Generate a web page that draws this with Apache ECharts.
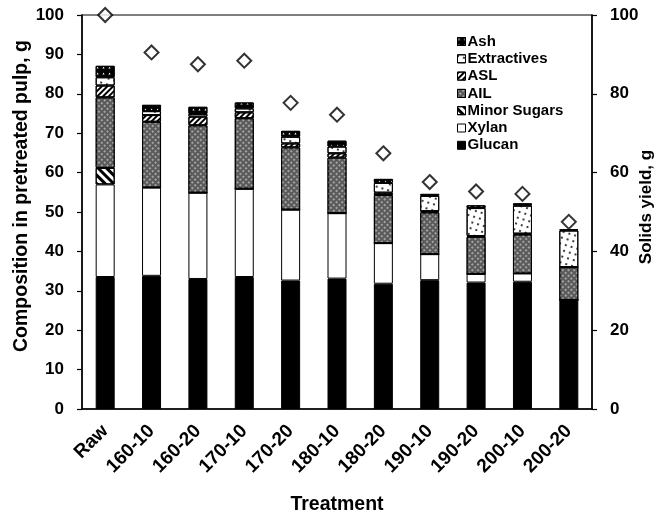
<!DOCTYPE html>
<html>
<head>
<meta charset="utf-8">
<script src="https://cdn.jsdelivr.net/npm/echarts@6/dist/echarts.min.js"></script>
<style>html,body{margin:0;padding:0;background:#fff;}#chart{width:658px;height:514px;}</style>
</head>
<body>
<div id="chart"></div>
<script>
var categories = ['Raw','160-10','160-20','170-10','170-20','180-10','180-20','190-10','190-20','200-10','200-20'];
var glucan      = [33.5, 33.8, 33.0, 33.5, 32.6, 33.1, 31.8, 32.7, 32.1, 32.3, 27.7];
var xylan       = [23.5, 22.4, 21.9, 22.4, 18.0, 16.6, 10.3, 6.6, 2.2, 2.1, 0];
var minorSugars = [4.2, 0, 0, 0, 0, 0, 0, 0, 0, 0, 0];
var ail         = [17.9, 16.7, 17.1, 17.9, 15.8, 14.1, 12.2, 10.6, 9.4, 9.9, 8.3];
var asl         = [3.0, 1.7, 2.2, 1.5, 1.0, 1.1, 0.6, 0.3, 0.2, 0.2, 0];
var extractives = [2.1, 1.0, 0.7, 1.0, 1.7, 1.7, 2.5, 3.9, 7.1, 7.1, 9.3];
var ash         = [2.9, 1.6, 1.8, 1.5, 1.5, 1.5, 1.0, 0.5, 0.7, 0.6, 0.3];
var solidsYield = [100, 90.5, 87.5, 88.4, 77.7, 74.7, 64.9, 57.6, 55.2, 54.6, 47.5];
var leftTicks = {min: 0, max: 100, interval: 10};
var rightTicks = {min: 0, max: 100, interval: 20};

var FONT = '"Liberation Sans", Arial, sans-serif';

function barSeries(name, data, color, decal) {
  var s = {
    name: name, type: 'bar', stack: 'total', data: data,
    barWidth: 19,
    itemStyle: {color: color, borderColor: '#000', borderWidth: 1},
    emphasis: {disabled: true}
  };
  if (decal) s.itemStyle.decal = decal;
  return s;
}

var chart = echarts.init(document.getElementById('chart'), null, {renderer: 'canvas'});
var option = {
  animation: false,
  backgroundColor: '#fff',
  grid: {left: 82, right: 66, top: 15, bottom: 105, outerBoundsMode: 'none', containLabel: false,
         show: true, borderColor: '#000', borderWidth: 1.2, backgroundColor: 'transparent'},
  legend: {
    orient: 'vertical', left: 452, top: 29,
    itemWidth: 8, itemHeight: 8, itemGap: 2.3,
    icon: 'rect',
    data: ['Ash','Extractives','ASL','AIL','Minor Sugars','Xylan','Glucan'],
    textStyle: {fontFamily: FONT, fontWeight: 'bold', fontSize: 15, color: '#000', lineHeight: 15, padding: [0,0,0,-3]},
    itemStyle: {borderColor: '#000', borderWidth: 1}
  },
  xAxis: {
    type: 'category', data: categories,
    axisLine: {lineStyle: {color: '#000', width: 1.5}},
    axisTick: {alignWithLabel: true, length: 5, lineStyle: {color: '#000', width: 1.2}},
    axisLabel: {rotate: 45, fontFamily: FONT, fontWeight: 'bold', fontSize: 19, color: '#000', margin: 19},
    name: 'Treatment', nameLocation: 'middle', nameGap: 86, nameMoveOverlap: false,
    nameTextStyle: {fontFamily: FONT, fontWeight: 'bold', fontSize: 19.5, color: '#000'}
  },
  yAxis: [{
    type: 'value', min: leftTicks.min, max: leftTicks.max, interval: leftTicks.interval,
    axisLine: {show: true, lineStyle: {color: '#000', width: 1.5}},
    axisTick: {show: true, length: 5, lineStyle: {color: '#000', width: 1.2}},
    splitLine: {show: false},
    axisLabel: {fontFamily: FONT, fontWeight: 'bold', fontSize: 17, color: '#000', margin: 18},
    name: 'Composition in pretreated pulp, g', nameLocation: 'middle', nameRotate: 90, nameGap: 50, nameMoveOverlap: false,
    nameTextStyle: {fontFamily: FONT, fontWeight: 'bold', fontSize: 19.5, color: '#000', padding: [0,0,0,32]}
  }, {
    type: 'value', position: 'right', min: rightTicks.min, max: rightTicks.max, interval: rightTicks.interval,
    axisLine: {show: true, lineStyle: {color: '#000', width: 1.5}},
    axisTick: {show: true, length: 5, lineStyle: {color: '#000', width: 1.2}},
    splitLine: {show: false},
    axisLabel: {fontFamily: FONT, fontWeight: 'bold', fontSize: 17, color: '#000', margin: 18},
    name: 'Solids yield, g', nameLocation: 'middle', nameRotate: 90, nameGap: 46, nameMoveOverlap: false,
    nameTextStyle: {fontFamily: FONT, fontWeight: 'bold', fontSize: 17, color: '#000', padding: [0,0,0,10]}
  }],
  series: [
    barSeries('Glucan', glucan, '#000'),
    barSeries('Xylan', xylan, '#fff'),
    barSeries('Minor Sugars', minorSugars, '#fff', {symbol: 'rect', symbolSize: 1, color: '#000', dashArrayX: [1, 0], dashArrayY: [3, 3], rotation: Math.PI / 4}),
    barSeries('AIL', ail, '#5a5a5a', {symbol: 'circle', symbolSize: 0.8, color: '#ffffff', dashArrayX: [2, 1.5], dashArrayY: [2, 1.5], rotation: Math.PI / 4}),
    barSeries('ASL', asl, '#fff', {symbol: 'rect', symbolSize: 1, color: '#000', dashArrayX: [1, 0], dashArrayY: [2, 2], rotation: -Math.PI / 4}),
    barSeries('Extractives', extractives, '#fff', {symbol: 'circle', symbolSize: 1, color: '#000', dashArrayX: [2, 3.5], dashArrayY: [2, 3.5], rotation: 0.3}),
    barSeries('Ash', ash, '#000', {symbol: 'triangle', symbolSize: 0.7, color: '#fff', dashArrayX: [3, 3], dashArrayY: [3, 3], rotation: 0}),
    {
      name: 'Solids yield', type: 'scatter', yAxisIndex: 1, data: solidsYield,
      symbol: 'diamond', symbolSize: [14, 14],
      itemStyle: {color: '#fff', borderColor: '#000', borderWidth: 2},
      z: 5, emphasis: {disabled: true}
    }
  ]
};
chart.setOption(option);
</script>
</body>
</html>
